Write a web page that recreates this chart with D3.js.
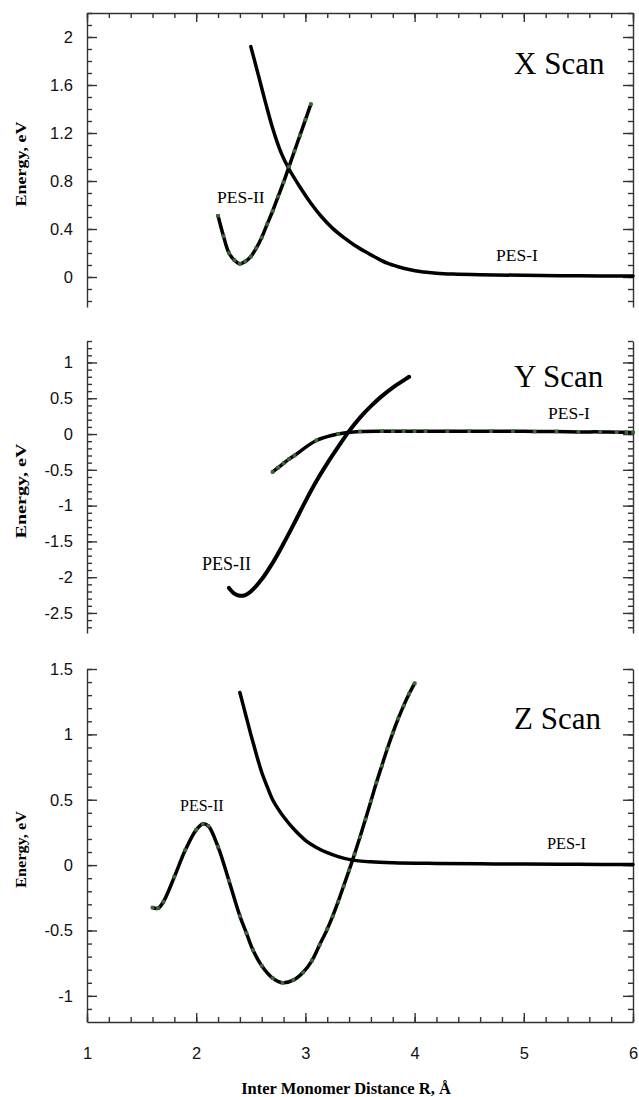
<!DOCTYPE html>
<html>
<head>
<meta charset="utf-8">
<script src="https://cdn.jsdelivr.net/npm/d3@7"></script>
<style>
  body { margin: 0; background: #fff; }
  .tick text { font-family: "Liberation Sans", Arial, sans-serif; font-size: 16.5px; fill: #111; }
  .axis path, .axis line { stroke: #333; stroke-width: 1.4; }
</style>
</head>
<body>
<div id="chart"></div>
<script>
// ---- data (R in Angstrom, energy in eV) ----
var xScanII_R = [2.2, 2.25, 2.3, 2.35, 2.4, 2.45, 2.5, 2.55, 2.6, 2.65, 2.7, 2.75, 2.8, 2.85, 2.9, 2.95, 3.0, 3.05]
var xScanII_E = [0.51, 0.34, 0.2, 0.14, 0.11, 0.13, 0.17, 0.24, 0.33, 0.44, 0.55, 0.67, 0.79, 0.92, 1.05, 1.18, 1.31, 1.44]
var xScanI_R = [2.5, 2.57, 2.63, 2.7, 2.78, 2.85, 2.95, 3.05, 3.15, 3.25, 3.35, 3.45, 3.55, 3.65, 3.75, 3.85, 3.95, 4.05, 4.2, 4.35, 4.6, 5.0, 5.5, 6.0]
var xScanI_E = [1.92, 1.68, 1.47, 1.24, 1.03, 0.90, 0.75, 0.615, 0.50, 0.405, 0.33, 0.265, 0.21, 0.16, 0.115, 0.085, 0.062, 0.045, 0.032, 0.025, 0.019, 0.014, 0.01, 0.008]

var yScanI_R = [2.7, 2.75, 2.8, 2.85, 2.9, 3.1, 3.3, 3.5, 3.7, 3.8, 3.9, 4.0, 4.1, 4.3, 4.5, 4.7, 4.9, 5.1, 5.3, 5.5, 5.7, 5.85, 5.94, 6.0]
var yScanI_E = [-0.53, -0.47, -0.41, -0.35, -0.30, -0.09, 0.0, 0.035, 0.04, 0.04, 0.04, 0.04, 0.04, 0.04, 0.04, 0.04, 0.04, 0.035, 0.035, 0.03, 0.03, 0.025, 0.025, 0.022]
var yScanII_R = [2.3, 2.35, 2.4, 2.45, 2.5, 2.6, 2.7, 2.8, 2.9, 3.0, 3.1, 3.2, 3.3, 3.4, 3.5, 3.6, 3.7, 3.8, 3.9, 3.95]
var yScanII_E = [-2.15, -2.23, -2.26, -2.25, -2.2, -2.03, -1.8, -1.53, -1.24, -0.94, -0.66, -0.41, -0.18, 0.04, 0.23, 0.39, 0.53, 0.65, 0.75, 0.80]

var zScanII_R = [1.6, 1.65, 1.7, 1.8, 1.9, 2.0, 2.06, 2.11, 2.2, 2.3, 2.4, 2.46, 2.52, 2.6, 2.7, 2.79, 2.89, 2.98, 3.06, 3.13, 3.2, 3.25, 3.3, 3.35, 3.4, 3.45, 3.5, 3.55, 3.6, 3.65, 3.7, 3.75, 3.8, 3.85, 3.9, 3.95, 4.0]
var zScanII_E = [-0.325, -0.33, -0.28, -0.09, 0.115, 0.27, 0.315, 0.30, 0.14, -0.12, -0.39, -0.52, -0.65, -0.77, -0.865, -0.90, -0.88, -0.82, -0.73, -0.61, -0.49, -0.39, -0.28, -0.16, -0.04, 0.085, 0.215, 0.35, 0.49, 0.63, 0.76, 0.89, 1.01, 1.12, 1.22, 1.31, 1.39]
var zScanI_R = [2.4, 2.45, 2.5, 2.55, 2.6, 2.65, 2.7, 2.75, 2.8, 2.9, 3.0, 3.1, 3.2, 3.3, 3.42, 3.6, 3.8, 4.2, 4.6, 5.0, 5.5, 6.0]
var zScanI_E = [1.32, 1.16, 1.0, 0.85, 0.71, 0.60, 0.50, 0.43, 0.37, 0.27, 0.19, 0.135, 0.095, 0.065, 0.04, 0.025, 0.018, 0.013, 0.01, 0.008, 0.006, 0.004]

// tick labels
var xTicks = [1, 2, 3, 4, 5, 6]
var xTickLabels = ["1", "2", "3", "4", "5", "6"]
var yTicksX = [0, 0.4, 0.8, 1.2, 1.6, 2]
var yTickLabelsX = ["0", "0.4", "0.8", "1.2", "1.6", "2"]
var yTicksY = [-2.5, -2, -1.5, -1, -0.5, 0, 0.5, 1]
var yTickLabelsY = ["-2.5", "-2", "-1.5", "-1", "-0.5", "0", "0.5", "1"]
var yTicksZ = [-1, -0.5, 0, 0.5, 1, 1.5]
var yTickLabelsZ = ["-1", "-0.5", "0", "0.5", "1", "1.5"]

function zip(R, E){
  return R.map(function(r, i){ return {r: r, e: E[i]} })
}

var svgw = 639
var svgh = 1097
var left = 87, right = 633
var green = '#3b6a36'

var svg = d3.select('#chart').append('svg')
  .attr('width', svgw)
  .attr('height', svgh)

var x = d3.scaleLinear().domain([1, 6]).range([left, right])

var panels = [
  {title: 'X Scan', top: 13, bottom: 307, domain: [-0.25, 2.2],
   ticks: yTicksX, labels: yTickLabelsX, minor: d3.range(-2, 23).map(function(i){ return i / 10 }),
   curves: [{d: zip(xScanI_R, xScanI_E), dots: false}, {d: zip(xScanII_R, xScanII_E), dots: true}],
   titleY: 74, yTitleLen: 85,
   pes: [{t: 'PES-II', x: 217, y: 203, s: 17.5}, {t: 'PES-I', x: 496, y: 261, s: 17.5}],
   topAxis: true},
  {title: 'Y Scan', top: 341, bottom: 633, domain: [-2.78, 1.3],
   ticks: yTicksY, labels: yTickLabelsY, minor: d3.range(-27, 14).map(function(i){ return i / 10 }),
   curves: [{d: zip(yScanII_R, yScanII_E), dots: false, w: 4}, {d: zip(yScanI_R, yScanI_E), dots: true}],
   titleY: 387, yTitleLen: 95,
   pes: [{t: 'PES-II', x: 202, y: 570, s: 18}, {t: 'PES-I', x: 548, y: 419, s: 17.5}]},
  {title: 'Z Scan', top: 669, bottom: 1022, domain: [-1.2, 1.5],
   ticks: yTicksZ, labels: yTickLabelsZ, minor: d3.range(-11, 16).map(function(i){ return i / 10 }),
   curves: [{d: zip(zScanI_R, zScanI_E), dots: false}, {d: zip(zScanII_R, zScanII_E), dots: true}],
   titleY: 729, yTitleLen: 77,
   pes: [{t: 'PES-II', x: 180, y: 811, s: 16}, {t: 'PES-I', x: 547, y: 849, s: 16.3}],
   bottomAxis: true}
]

panels.forEach(function(p){
  var y = d3.scaleLinear().domain(p.domain).range([p.bottom, p.top])
  var g = svg.append('g')

  // left axis: minor then major with labels
  g.append('g').attr('class', 'axis').attr('transform', 'translate(' + left + ',0)')
    .call(d3.axisLeft(y).tickValues(p.minor).tickSize(-5).tickSizeOuter(0).tickFormat(''))
  g.append('g').attr('class', 'axis').attr('transform', 'translate(' + left + ',0)')
    .call(d3.axisLeft(y).tickValues(p.ticks).tickSize(-10).tickSizeOuter(0).tickPadding(14)
      .tickFormat(function(d, i){ return p.labels[i] }))
    .select('.domain').remove()

  // right axis, ticks inward
  g.append('g').attr('class', 'axis').attr('transform', 'translate(' + right + ',0)')
    .call(d3.axisRight(y).tickValues(p.minor).tickSize(-5).tickSizeOuter(0).tickFormat(''))
  g.append('g').attr('class', 'axis').attr('transform', 'translate(' + right + ',0)')
    .call(d3.axisRight(y).tickValues(p.ticks).tickSize(-10).tickSizeOuter(0).tickFormat(''))
    .select('.domain').remove()

  var xMinor = d3.range(10, 61, 2).map(function(i){ return i / 10 })
  if (p.topAxis){
    g.append('g').attr('class', 'axis').attr('transform', 'translate(0,' + p.top + ')')
      .call(d3.axisTop(x).tickValues(xMinor).tickSize(-5).tickSizeOuter(0).tickFormat(''))
    g.append('g').attr('class', 'axis').attr('transform', 'translate(0,' + p.top + ')')
      .call(d3.axisTop(x).tickValues(xTicks).tickSize(-9).tickSizeOuter(0).tickFormat(''))
      .select('.domain').remove()
  }
  if (p.bottomAxis){
    g.append('g').attr('class', 'axis').attr('transform', 'translate(0,' + p.bottom + ')')
      .call(d3.axisBottom(x).tickValues(xMinor).tickSize(-5).tickSizeOuter(0).tickFormat(''))
    g.append('g').attr('class', 'axis').attr('transform', 'translate(0,' + p.bottom + ')')
      .call(d3.axisBottom(x).tickValues(xTicks).tickSize(-9).tickSizeOuter(0).tickPadding(25)
        .tickFormat(function(d, i){ return xTickLabels[i] }))
      .select('.domain').remove()
  }

  var line = d3.line()
    .x(function(d){ return x(d.r) })
    .y(function(d){ return y(d.e) })
    .curve(d3.curveCatmullRom.alpha(0.5))

  p.curves.forEach(function(c){
    g.append('path')
      .datum(c.d)
      .attr('d', line)
      .attr('fill', 'none')
      .attr('stroke', '#000')
      .attr('stroke-width', c.w || 3.5)
      .attr('stroke-linecap', 'round')
    if (c.dots){
      g.selectAll(null)
        .data(c.d)
        .enter()
        .append('rect')
        .attr('x', function(d){ return x(d.r) - 1.8 })
        .attr('y', function(d){ return y(d.e) - 1.8 })
        .attr('width', 3.6)
        .attr('height', 3.6)
        .attr('fill', green)
    }
  })

  g.append('text')
    .attr('x', 514)
    .attr('y', p.titleY)
    .attr('font-family', '"Liberation Serif", "Times New Roman", serif')
    .attr('font-size', 31)
    .text(p.title)

  p.pes.forEach(function(t){
    g.append('text')
      .attr('x', t.x)
      .attr('y', t.y)
      .attr('font-family', '"Liberation Serif", "Times New Roman", serif')
      .attr('font-size', t.s)
      .text(t.t)
  })

  var cy = (p.top + p.bottom) / 2
  g.append('text')
    .attr('transform', 'translate(26,' + (cy + 4) + ') rotate(-90)')
    .attr('text-anchor', 'middle')
    .attr('font-family', '"Liberation Serif", "Times New Roman", serif')
    .attr('font-weight', 'bold')
    .attr('font-size', 15)
    .attr('textLength', p.yTitleLen)
    .attr('lengthAdjust', 'spacingAndGlyphs')
    .text('Energy, eV')
})

svg.append('text')
  .attr('x', 346)
  .attr('y', 1094)
  .attr('text-anchor', 'middle')
  .attr('font-family', '"Liberation Serif", "Times New Roman", serif')
  .attr('font-weight', 'bold')
  .attr('font-size', 16.5)
  .text('Inter Monomer Distance R, Å')
</script>
</body>
</html>
